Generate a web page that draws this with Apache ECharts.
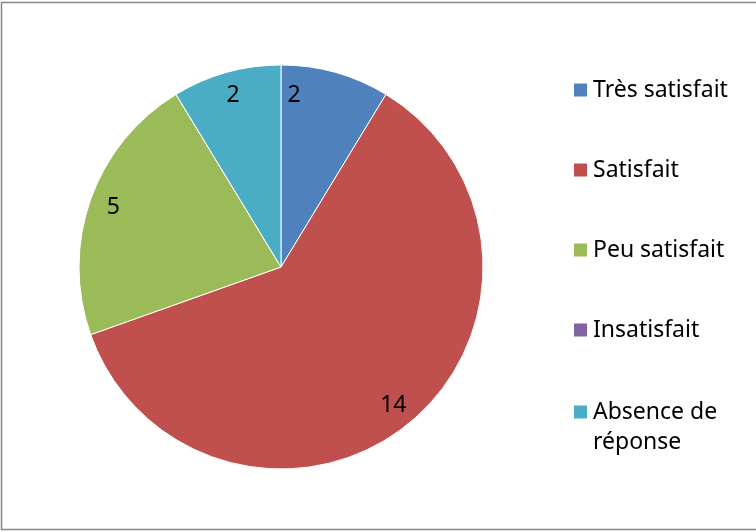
<!DOCTYPE html>
<html>
<head>
<meta charset="UTF-8">
<title>Satisfaction</title>
<script src="https://cdn.jsdelivr.net/npm/echarts@6/dist/echarts.min.js"></script>
<style>
  html, body { margin: 0; padding: 0; background: #fff; }
  #main { width: 756px; height: 532px; }
</style>
</head>
<body>
<div id="main"></div>
<script type="text/javascript">
// categories and counts
var categories = ['Très satisfait', 'Satisfait', 'Peu satisfait', 'Insatisfait', 'Absence de réponse'];
var counts = [2, 14, 5, 0, 2];
var colors = ['#4F81BD', '#C0504D', '#9BBB59', '#8064A2', '#4BACC6'];

var font = 'Noto Sans';
var data = categories.map(function (name, i) {
  return { name: name, value: counts[i] };
});

// one legend per entry so the spacing follows the original
// (the last one has a blank first line so the square sits on "Absence de")
var legendTops = [75, 155, 235, 315, 367];
var legends = categories.map(function (name, i) {
  return {
    orient: 'vertical',
    left: 572,
    top: legendTops[i],
    padding: 0,
    data: [name],
    itemWidth: 15,
    itemHeight: 15,
    itemGap: 0,
    icon: 'rect',
    selectedMode: false,
    formatter: function (n) { return n === 'Absence de réponse' ? ' \nAbsence de\nréponse' : n; },
    textStyle: {
      fontFamily: font,
      fontSize: 23,
      color: '#000',
      lineHeight: 30
    }
  };
});

var chart = echarts.init(document.getElementById('main'));
chart.setOption({
  animation: false,
  color: colors,
  graphic: [{
    type: 'rect',
    shape: { x: 1.5, y: 2.5, width: 800, height: 527 },
    style: { fill: 'none', stroke: '#888', lineWidth: 1.5 },
    silent: true
  }],
  legend: legends,
  series: [{
    type: 'pie',
    center: [281, 267],
    radius: [0, 202],
    startAngle: 90,
    clockwise: true,
    data: data,
    label: { show: false },
    labelLine: { show: false },
    itemStyle: { borderColor: '#fff', borderWidth: 1 },
    emphasis: { disabled: true }
  }, {
    // invisible ring only used to place the value labels near the edge
    type: 'pie',
    center: [281, 267],
    radius: [148, 202],
    startAngle: 90,
    clockwise: true,
    data: data,
    silent: true,
    itemStyle: { color: 'rgba(0,0,0,0)' },
    labelLine: { show: false },
    label: {
      show: true,
      position: 'inside',
      fontFamily: font,
      fontSize: 23,
      color: '#000',
      formatter: function (p) { return p.value ? String(p.value) : ''; }
    },
    labelLayout: function (p) {
      // Excel pushed the first label toward the vertical edge
      return p.dataIndex === 0 ? { dx: -35 } : {};
    },
    emphasis: { disabled: true }
  }]
});
</script>
</body>
</html>
